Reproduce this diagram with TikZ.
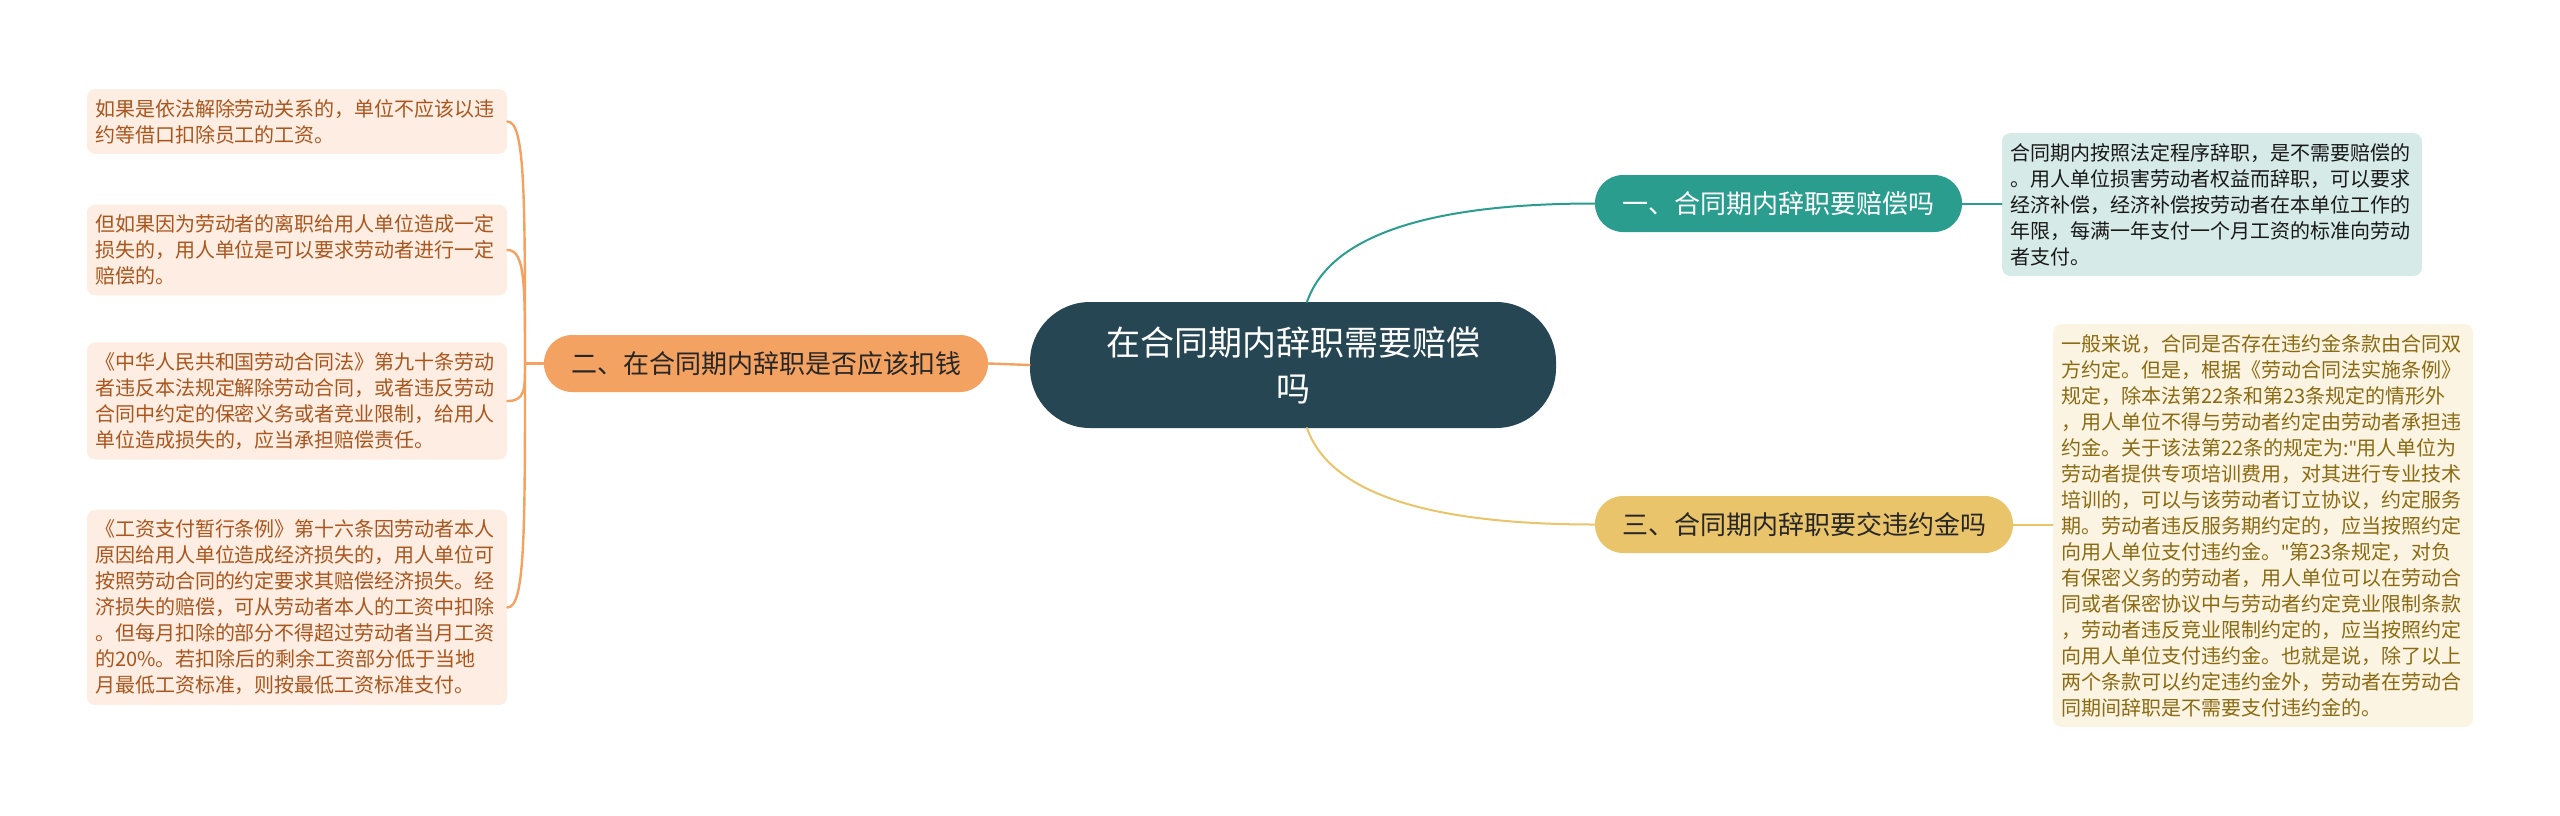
\documentclass[tikz,border=0pt]{standalone}
\usepackage{fontspec}
\setmainfont{Noto Sans CJK SC}
\newfontfamily\latinq{Noto Sans}
\newcommand{\sq}{{\latinq"}}
\usetikzlibrary{calc}
\definecolor{cRoot}{HTML}{264653}
\definecolor{cTeal}{HTML}{2A9D8F}
\definecolor{cOrange}{HTML}{F4A261}
\definecolor{cYellow}{HTML}{E9C46A}
\definecolor{fTeal}{HTML}{D6EBE8}
\definecolor{fOrange}{HTML}{FDEDE2}
\definecolor{fYellow}{HTML}{FBF4E2}
\definecolor{tOrange}{HTML}{A9561E}
\definecolor{tYellow}{HTML}{8A6A12}
\begin{document}
\begin{tikzpicture}[x=0.5pt, y=-0.5pt, line join=round, line cap=round]
\tikzset{every node/.style={font=\fontsize{10pt}{13pt}\selectfont},
  root/.style={fill=cRoot, text=white, rounded corners=30pt, minimum width=263pt, minimum height=63pt,
    text width=190pt, align=center, font=\fontsize{17pt}{23pt}\selectfont},
  topic/.style={rounded corners=14pt, minimum height=28.5pt, inner xsep=0pt, font=\fontsize{13pt}{15pt}\selectfont},
  leaf/.style={rounded corners=4pt, text width=202pt, inner xsep=4pt, inner ysep=5pt, align=left},
  lineT/.style={draw=cTeal, line width=1pt},
  lineO/.style={draw=cOrange, line width=1.2pt},
  lineY/.style={draw=cYellow, line width=1pt}}
\useasboundingbox (0,0) rectangle (2560,815);
% centre
\node[root] (root) at (1293,365) {在合同期内辞职需要赔偿\\吗};
% right side
\node[topic, fill=cTeal, text=white, minimum width=183.5pt] (b1) at (1778.5,203.5) {一、合同期内辞职要赔偿吗};
\node[topic, fill=cYellow, text=black!85, minimum width=209pt] (b3) at (1804,524.5) {三、合同期内辞职要交违约金吗};
\node[leaf, fill=fTeal, text=black!90] (r1) at (2212,204.5) {合同期内按照法定程序辞职，是不需要赔偿的\\。用人单位损害劳动者权益而辞职，可以要求\\经济补偿，经济补偿按劳动者在本单位工作的\\年限，每满一年支付一个月工资的标准向劳动\\者支付。};
\node[leaf, fill=fYellow, text=tYellow] (r3) at (2263,525.5) {一般来说，合同是否存在违约金条款由合同双\\方约定。但是，根据《劳动合同法实施条例》\\规定，除本法第22条和第23条规定的情形外\\，用人单位不得与劳动者约定由劳动者承担违\\约金。关于该法第22条的规定为:\sq 用人单位为\\劳动者提供专项培训费用，对其进行专业技术\\培训的，可以与该劳动者订立协议，约定服务\\期。劳动者违反服务期约定的，应当按照约定\\向用人单位支付违约金。\sq 第23条规定，对负\\有保密义务的劳动者，用人单位可以在劳动合\\同或者保密协议中与劳动者约定竞业限制条款\\，劳动者违反竞业限制约定的，应当按照约定\\向用人单位支付违约金。也就是说，除了以上\\两个条款可以约定违约金外，劳动者在劳动合\\同期间辞职是不需要支付违约金的。};
% left side
\node[topic, fill=cOrange, text=black!85, minimum width=222pt] (b2) at (766,363.5) {二、在合同期内辞职是否应该扣钱};
\node[leaf, fill=fOrange, text=tOrange] (l1) at (297,121.5) {如果是依法解除劳动关系的，单位不应该以违\\约等借口扣除员工的工资。};
\node[leaf, fill=fOrange, text=tOrange] (l2) at (297,250) {但如果因为劳动者的离职给用人单位造成一定\\损失的，用人单位是可以要求劳动者进行一定\\赔偿的。};
\node[leaf, fill=fOrange, text=tOrange] (l3) at (297,401) {《中华人民共和国劳动合同法》第九十条劳动\\者违反本法规定解除劳动合同，或者违反劳动\\合同中约定的保密义务或者竞业限制，给用人\\单位造成损失的，应当承担赔偿责任。};
\node[leaf, fill=fOrange, text=tOrange] (l4) at (297,607.5) {《工资支付暂行条例》第十六条因劳动者本人\\原因给用人单位造成经济损失的，用人单位可\\按照劳动合同的约定要求其赔偿经济损失。经\\济损失的赔偿，可从劳动者本人的工资中扣除\\。但每月扣除的部分不得超过劳动者当月工资\\的20\%。若扣除后的剩余工资部分低于当地\\月最低工资标准，则按最低工资标准支付。};
% connectors
\coordinate (rt) at (1307,302);
\coordinate (rb) at (1307,428);
\coordinate (hub) at (525,363.5);
\draw[lineT] (rt) .. controls (1330,235) and (1430,203.5) .. (b1.west);
\draw[lineY] (rb) .. controls (1330,494) and (1430,524.5) .. (b3.west);
\draw[lineT] (b1.east) -- (b1.east -| r1.west);
\draw[lineY] (b3.east) -- (b3.east -| r3.west);
\draw[lineO] (root.west) -- (b2.east);
\draw[lineO] (b2.west) -- (hub);
\foreach \n in {l1,l2,l3,l4}
  \draw[lineO] (hub) .. controls ($(hub)!0.7!(hub |- \n.east)$) and (hub |- \n.east) .. (\n.east);
\end{tikzpicture}
\end{document}
